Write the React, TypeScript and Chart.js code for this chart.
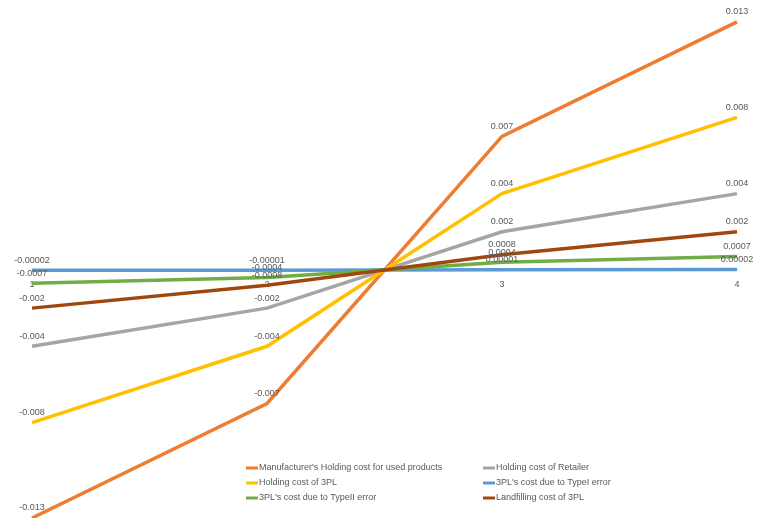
import React, { useEffect, useRef } from "react";
import { Chart, registerables } from "chart.js";

Chart.register(...registerables);

const categories = ["1", "2", "3", "4"];
const seriesNames = [
  "Manufacturer's Holding cost for used products",
  "Holding cost of Retailer",
  "Holding cost of 3PL",
  "3PL's cost due to TypeI error",
  "3PL's cost due to TypeII error",
  "Landfilling cost of 3PL",
];
const manufacturerHolding = [-0.013, -0.007, 0.007, 0.013];
const retailerHolding = [-0.004, -0.002, 0.002, 0.004];
const holding3PL = [-0.008, -0.004, 0.004, 0.008];
const typeIError = [-0.00002, -0.00001, 0.00001, 0.00002];
const typeIIError = [-0.0007, -0.0004, 0.0004, 0.0007];
const landfilling3PL = [-0.002, -0.0008, 0.0008, 0.002];
const seriesColors = ["#ED7D31", "#A5A5A5", "#FFC000", "#5B9BD5", "#70AD47", "#9E480E"];

const FONT = "'Liberation Sans', Arial, sans-serif";
const TEXT = "#595959";

const dataLabelPlugin = {
  id: "dataLabels",
  afterDatasetsDraw(chart: any) {
    const ctx = chart.ctx;
    ctx.save();
    ctx.font = `9px ${FONT}`;
    ctx.fillStyle = TEXT;
    ctx.textAlign = "center";
    ctx.textBaseline = "middle";
    chart.data.datasets.forEach((ds: any, i: number) => {
      const meta = chart.getDatasetMeta(i);
      meta.data.forEach((pt: any, j: number) => {
        ctx.fillText(String(ds.data[j]), pt.x, pt.y - 10);
      });
    });
    ctx.restore();
  },
};

const legendPlugin = {
  id: "customLegend",
  afterDraw(chart: any) {
    const ctx = chart.ctx;
    ctx.save();
    ctx.font = `9px ${FONT}`;
    ctx.fillStyle = TEXT;
    ctx.textAlign = "left";
    ctx.textBaseline = "middle";
    const colX = [238, 475];
    const rowY = [460, 475, 490];
    chart.data.datasets.forEach((ds: any, i: number) => {
      const x = colX[i % 2];
      const y = rowY[Math.floor(i / 2)];
      ctx.strokeStyle = ds.borderColor;
      ctx.lineWidth = 3;
      ctx.beginPath();
      ctx.moveTo(x, y);
      ctx.lineTo(x + 12, y);
      ctx.stroke();
      ctx.fillStyle = TEXT;
      ctx.fillText(ds.label, x + 13, y);
    });
    ctx.restore();
  },
};

export default function App() {
  const ref = useRef<HTMLCanvasElement>(null);
  useEffect(() => {
    const values = [manufacturerHolding, retailerHolding, holding3PL, typeIError, typeIIError, landfilling3PL];
    const chart = new Chart(ref.current as HTMLCanvasElement, {
      type: "line",
      data: {
        labels: categories,
        datasets: values.map((v, i) => ({
          label: seriesNames[i],
          data: v,
          borderColor: seriesColors[i],
          backgroundColor: seriesColors[i],
          borderWidth: 3.5,
          pointRadius: 0,
          tension: 0,
          fill: false,
          order: values.length - i,
          clip: false as any,
        })),
      },
      options: {
        animation: false,
        responsive: true,
        maintainAspectRatio: false,
        layout: { padding: { left: 24, right: 22, top: 0, bottom: 0 } },
        plugins: { legend: { display: false }, tooltip: { enabled: false } },
        scales: {
          x: {
            type: "category",
            position: { y: 0 } as any,
            offset: false,
            grid: { display: false },
            border: { display: true, color: "#D9D9D9" },
            ticks: { color: TEXT, font: { size: 9, family: FONT }, padding: 1, maxRotation: 0 },
            afterFit: (scale: any) => {
              scale.height = 0;
            },
          },
          y: {
            display: false,
            min: -0.013,
            max: 0.01373,
          },
        },
      },
      plugins: [dataLabelPlugin, legendPlugin],
    });
    return () => chart.destroy();
  }, []);
  return (
    <div style={{ position: "relative", width: 751, height: 510 }}>
      <canvas ref={ref} />
    </div>
  );
}
